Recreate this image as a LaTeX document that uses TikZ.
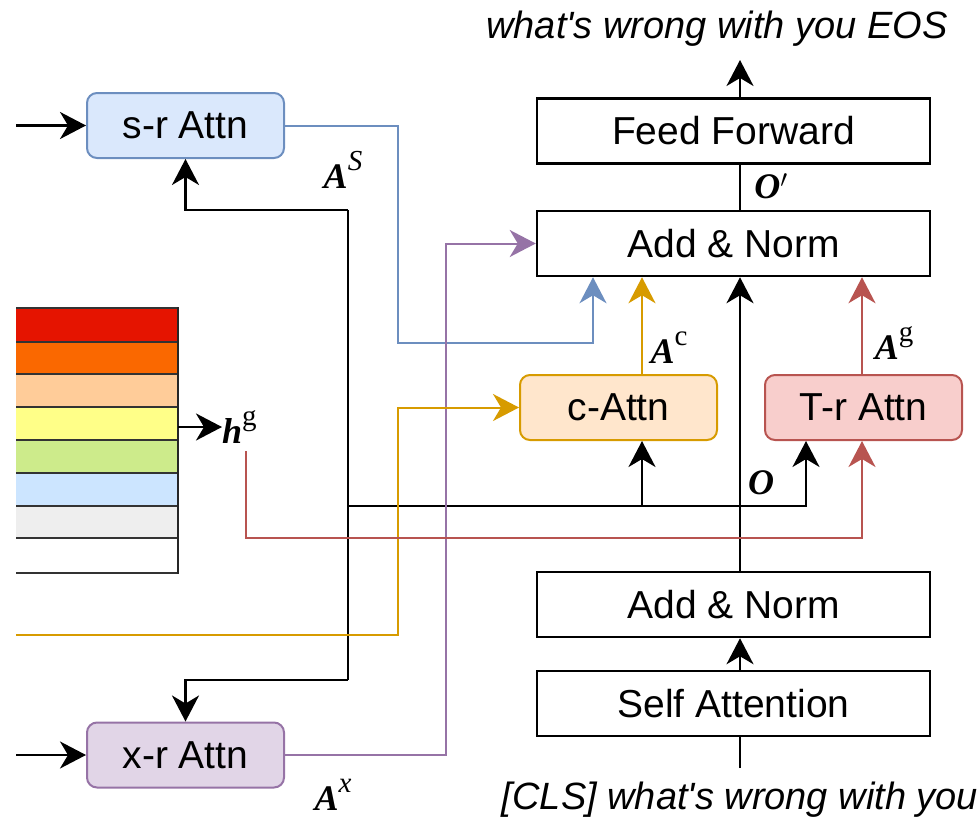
\documentclass[tikz,border=0pt]{standalone}
\usepackage{fontspec}
\setmainfont{Liberation Sans}
\newfontfamily\tnr{Liberation Serif}
\newfontfamily\seqfont{Liberation Sans}[Ligatures=TeXOff]
\usetikzlibrary{arrows.meta}
\definecolor{bS}{HTML}{6C8EBF}\definecolor{bF}{HTML}{DAE8FC}
\definecolor{oS}{HTML}{D79B00}\definecolor{oF}{HTML}{FFE6CC}
\definecolor{rS}{HTML}{B85450}\definecolor{rF}{HTML}{F8CECC}
\definecolor{pS}{HTML}{9673A6}\definecolor{pF}{HTML}{E1D5E7}
\newcommand\mylab[2]{{\bfseries\itshape #1}\raisebox{0.5em}{\fontsize{29}{31}\selectfont #2}}
\begin{document}
\begin{tikzpicture}[x=1pt,y=-1pt,
  tip/.style={-{Stealth[length=26pt,width=27pt,inset=8pt]}},
  conn/.style={line width=2.5pt,black},
  cconn/.style={line width=2pt},
  blockbox/.style={draw=black,line width=2.5pt,minimum width=393pt,minimum height=65pt,inner sep=0pt,font=\fontsize{39}{46}\selectfont},
  attnbox/.style={rounded corners=10pt,line width=2pt,minimum width=197pt,minimum height=65pt,inner sep=0pt,font=\fontsize{39}{46}\selectfont},
  mlab/.style={font=\tnr\fontsize{36}{40}\selectfont,inner sep=0pt},
  seqtext/.style={font=\seqfont\fontsize{38}{44}\selectfont\itshape,inner sep=0pt}]
\useasboundingbox (0,0) rectangle (977,825);
% colour stack
\foreach \ya/\yb/\c in {308/342/E51400,342/374/FA6800,374/407/FFCC99,407/440/FFFF88,440/473/CDEB8B,473/506/CCE5FF,506/538/EEEEEE,538/573/FFFFFF}{
  \definecolor{tmpc}{HTML}{\c}
  \fill[tmpc] (16,\ya) rectangle (178,\yb);
}
\foreach \y in {308,342,374,407,440,473,506,538,573}{
  \draw[line width=2pt,black!80] (16,\y) -- (178,\y);
}
\draw[line width=2.5pt,black!85] (178,307) -- (178,574);
% boxes
\node[blockbox] (ff) at (733.5,131) {Feed Forward};
\node[blockbox] (an1) at (733.5,243.5) {Add \& Norm};
\node[blockbox] (an2) at (733.5,604.5) {Add \& Norm};
\node[blockbox] (sa) at (733.5,703.5) {Self Attention};
\node[attnbox,draw=bS,fill=bF] (sr) at (185.5,125.5) {s-r Attn};
\node[attnbox,draw=pS,fill=pF] (xr) at (185.5,755) {x-r Attn};
\node[attnbox,draw=oS,fill=oF] (ca) at (618.5,407.5) {c-Attn};
\node[attnbox,draw=rS,fill=rF] (tr) at (863.5,407.5) {T-r Attn};
% texts
\node[seqtext] (out) at (717,29) {what's wrong with you EOS};
\node[seqtext] (inp) at (740,800) {[CLS] what's wrong with you};
\node[mlab,anchor=west] (hg) at (222,427) {\mylab{h}{g}};
\node[mlab] (las) at (343,170) {\mylab{A}{\itshape S}};
\node[mlab] (lax) at (333,795) {\mylab{A}{\itshape x}};
\node[mlab] (lac) at (669,348) {\mylab{A}{c}};
\node[mlab] (lag) at (894,343) {\mylab{A}{g}};
\node[mlab] (lop) at (771,186) {{\bfseries\itshape O\/}\raisebox{0.05em}{\bfseries$'$}};
\node[mlab] (lo) at (761,483) {{\bfseries\itshape O}};
% coordinates
\coordinate (mx) at (740,0);
\coordinate (cx) at (642,0);
\coordinate (rx) at (862,0);
\coordinate (tx) at (806,0);
\coordinate (bx) at (593,0);
\coordinate (outtip) at (740,60);
\coordinate (intail) at (740,768);
\coordinate (srin) at (16,125.5);
\coordinate (xrin) at (16,755);
\coordinate (oin) at (16,635);
\coordinate (stk) at (178,427);
\coordinate (jt) at (348,210);
\coordinate (jb) at (348,680);
\coordinate (jh) at (348,506);
\coordinate (rs) at (246,451);
% main column
\draw[conn,tip] (ff.north -| mx) -- (outtip);
\draw[conn] (an1.north -| mx) -- (ff.south -| mx);
\draw[conn,tip] (an2.north -| mx) -- (an1.south -| mx);
\draw[conn,tip] (sa.north -| mx) -- (an2.south -| mx);
\draw[conn] (intail) -- (sa.south -| mx);
% left inputs
\draw[conn,tip] (srin) -- (sr.west);
\draw[conn,tip] (xrin) -- (xr.west);
\draw[conn,tip] (stk) -- (hg.west);
% black tree
\draw[conn] (jt) -- (jb);
\draw[conn,tip] (jt) -| (sr.south);
\draw[conn,tip] (jb) -| (xr.north);
\draw[conn,tip] (jh) -| (tr.south -| tx);
\draw[conn,tip] (jh -| cx) -- (ca.south -| cx);
% coloured
\draw[cconn,bS,tip] (sr.east) -| (398,343) -| (an1.south -| bx);
\draw[cconn,pS,tip] (xr.east) -| (446,243.5) -- (an1.west);
\draw[cconn,oS,tip] (oin) -| (398,407.5) -- (ca.west);
\draw[cconn,oS,tip] (ca.north -| cx) -- (an1.south -| cx);
\draw[cconn,rS,tip] (tr.north -| rx) -- (an1.south -| rx);
\draw[cconn,rS,tip] (rs) |- (600,538) -| (tr.south -| rx);
\end{tikzpicture}
\end{document}
